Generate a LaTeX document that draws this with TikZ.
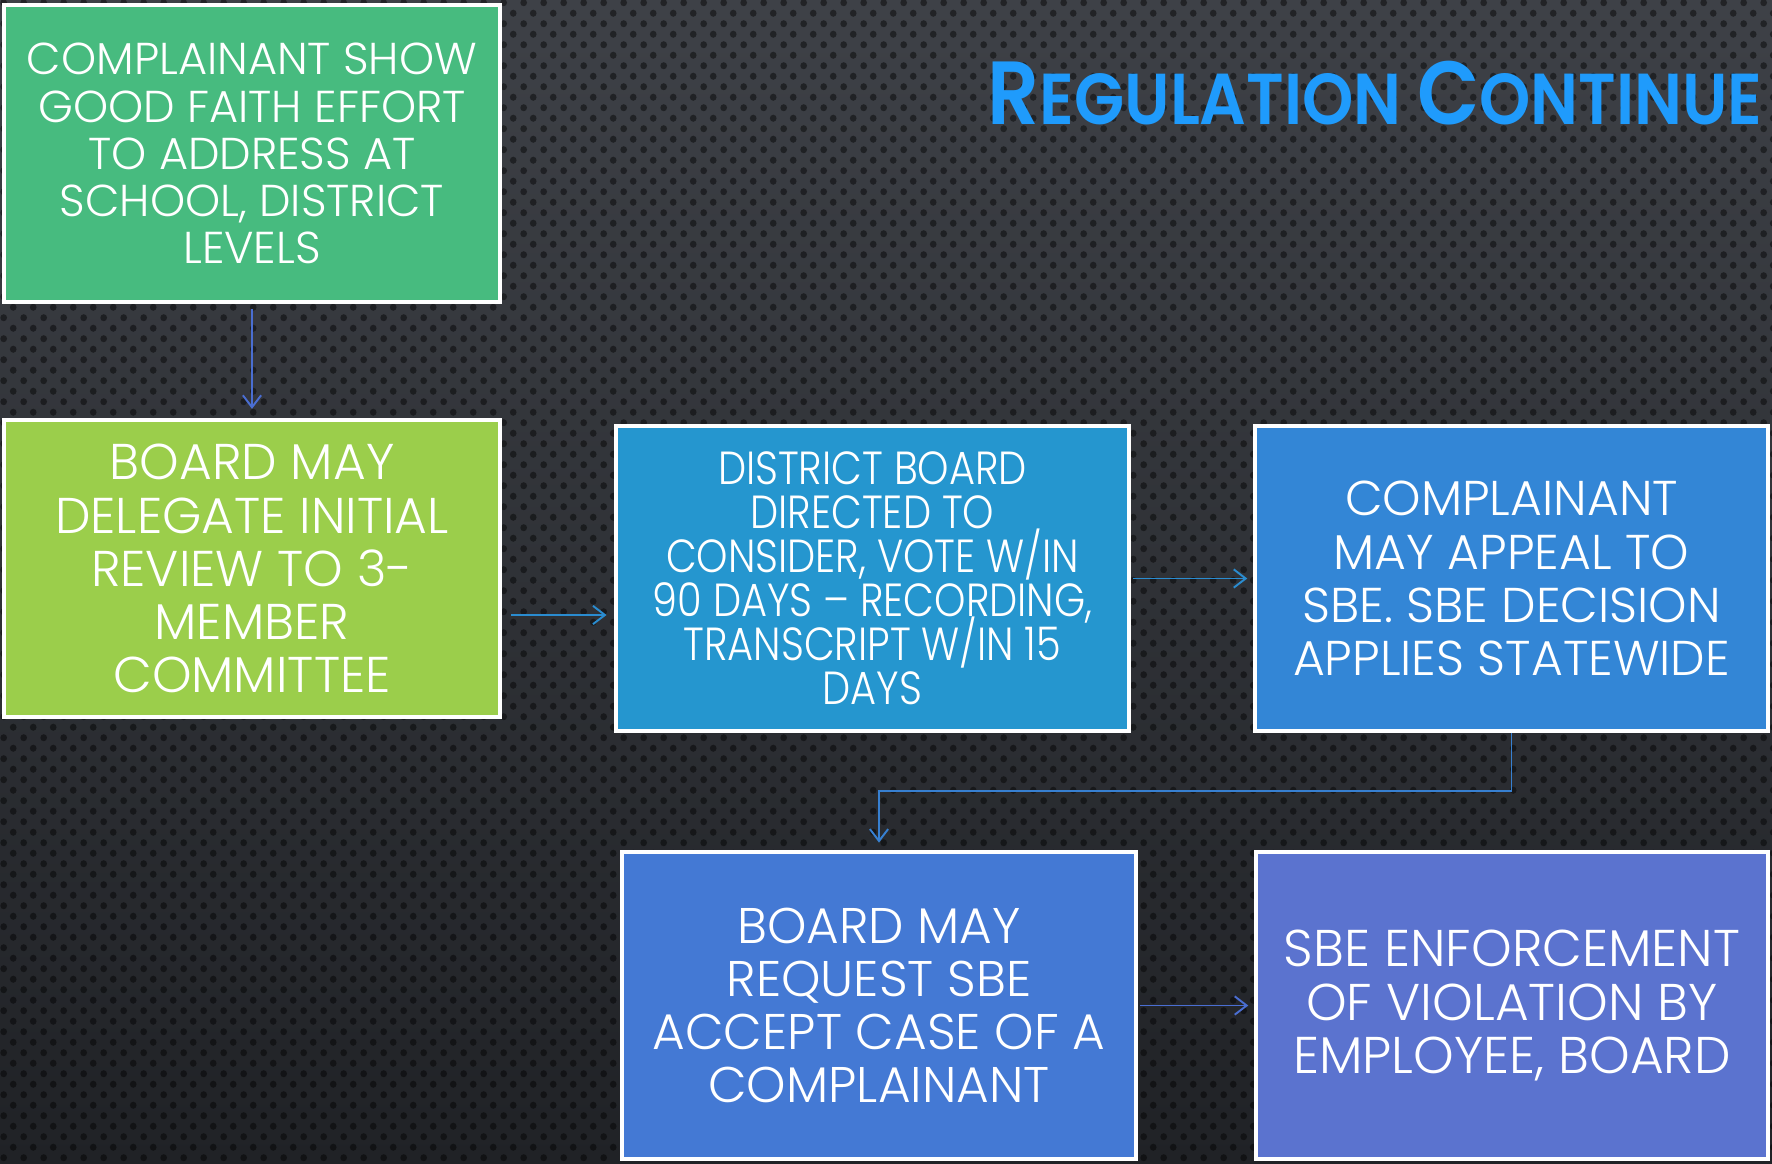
\documentclass[tikz,border=0pt]{standalone}
\usepackage{fontspec}
\usetikzlibrary{arrows.meta,patterns}
\newfontfamily\bxfont{Poppins Light}
\newfontfamily\bxcond{Poppins Light}[FakeStretch=0.86]
\newfontfamily\ttlfont{Poppins SemiBold}[FakeStretch=0.905]
\definecolor{bgtop}{HTML}{3E4147}
\definecolor{bgbot}{HTML}{202226}
\definecolor{cA}{HTML}{47BB7F}
\definecolor{cB}{HTML}{9BCE4B}
\definecolor{cC}{HTML}{2596CF}
\definecolor{cD}{HTML}{3386D6}
\definecolor{cE}{HTML}{4479D4}
\definecolor{cF}{HTML}{5B73CF}
\definecolor{ttl}{HTML}{1F9BFC}
\definecolor{arA}{HTML}{4A6ED2}
\definecolor{arB}{HTML}{2A8CD0}
\pgfdeclarepatternformonly{hexdots}{\pgfpointorigin}{\pgfpoint{5.69pt}{5.97pt}}{\pgfpoint{5.69pt}{5.97pt}}{%
  \pgfpathcircle{\pgfpoint{1.4pt}{1.5pt}}{1pt}%
  \pgfpathcircle{\pgfpoint{4.25pt}{4.48pt}}{1pt}%
  \pgfusepath{fill}}
\tikzset{
  box/.style={draw=white,line width=1.3pt,text=white,align=center,inner sep=0pt},
  arr/.style={line width=0.55pt,-{Straight Barb[length=3.4pt,width=5.2pt]}},
}
\begin{document}
\begin{tikzpicture}[x=0.01cm,y=-0.01cm]
\useasboundingbox (0,0) rectangle (1772,1163);
\shade[top color=bgtop,bottom color=bgbot] (0,0) rectangle (1772,1163);
\fill[pattern=hexdots,pattern color=black,fill opacity=0.45] (0,0) rectangle (1772,1163);

\node[anchor=base west,text=ttl,inner sep=0pt] (title) at (987,124)
  {\ttlfont\fontsize{25.5}{25}\selectfont R\fontsize{20.5}{20}\selectfont EGULATION \fontsize{25.5}{25}\selectfont C\fontsize{20.5}{20}\selectfont ONTINUE};

\node[box,fill=cA,minimum width=4.96cm,minimum height=2.97cm,
  font={\bxfont\fontsize{12.7pt}{13.4pt}\selectfont\lineskiplimit=-20pt}] (b1) at (252,153.5)
  {COMPLAINANT SHOW\\GOOD FAITH EFFORT\\TO ADDRESS AT\\SCHOOL, DISTRICT\\LEVELS};
\node[box,fill=cB,minimum width=4.96cm,minimum height=2.97cm,
  font={\bxfont\fontsize{14.3pt}{15.1pt}\selectfont\lineskiplimit=-20pt}] (b2) at (252,568.5)
  {BOARD MAY\\DELEGATE INITIAL\\REVIEW TO 3-\\MEMBER\\COMMITTEE};
\node[box,fill=cC,minimum width=5.13cm,minimum height=3.05cm,
  font={\bxcond\fontsize{13.2pt}{12.5pt}\selectfont\lineskiplimit=-20pt}] (b3) at (872.5,578.5)
  {DISTRICT BOARD\\DIRECTED TO\\CONSIDER, VOTE W/IN\\90 DAYS – RECORDING,\\TRANSCRIPT W/IN 15\\DAYS};
\node[box,fill=cD,minimum width=5.13cm,minimum height=3.05cm,
  font={\bxfont\fontsize{13.9pt}{15.1pt}\selectfont\lineskiplimit=-20pt}] (b4) at (1511.5,578.5)
  {COMPLAINANT\\MAY APPEAL TO\\SBE. SBE DECISION\\APPLIES STATEWIDE};
\node[box,fill=cE,minimum width=5.14cm,minimum height=3.07cm,
  font={\bxfont\fontsize{14.25pt}{15.1pt}\selectfont\lineskiplimit=-20pt}] (b5) at (879,1005.5)
  {BOARD MAY\\REQUEST SBE\\ACCEPT CASE OF A\\COMPLAINANT};
\node[box,fill=cF,minimum width=5.12cm,minimum height=3.07cm,
  font={\bxfont\fontsize{14.7pt}{15.1pt}\selectfont\lineskiplimit=-20pt}] (b6) at (1512,1005.5)
  {SBE ENFORCEMENT\\OF VIOLATION BY\\EMPLOYEE, BOARD};

\coordinate (a2y) at (0,615);
\coordinate (elb) at (0,791);
\draw[arr,arA,shorten <=1.3pt,shorten >=2.5pt] (b1.south) -- (b2.north);
\draw[arr,arB,shorten <=2.5pt,shorten >=2pt] (b2.east |- a2y) -- (b3.west |- a2y);
\draw[arr,arB,shorten <=0.5pt,shorten >=1.5pt] (b3.east) -- (b4.west);
\draw[arr,arB!60!arA,shorten >=2pt] (b4.south) -- (b4.south |- elb) -| (b5.north);
\draw[arr,arA,shorten <=0.5pt,shorten >=1.5pt] (b5.east) -- (b6.west);
\end{tikzpicture}
\end{document}
